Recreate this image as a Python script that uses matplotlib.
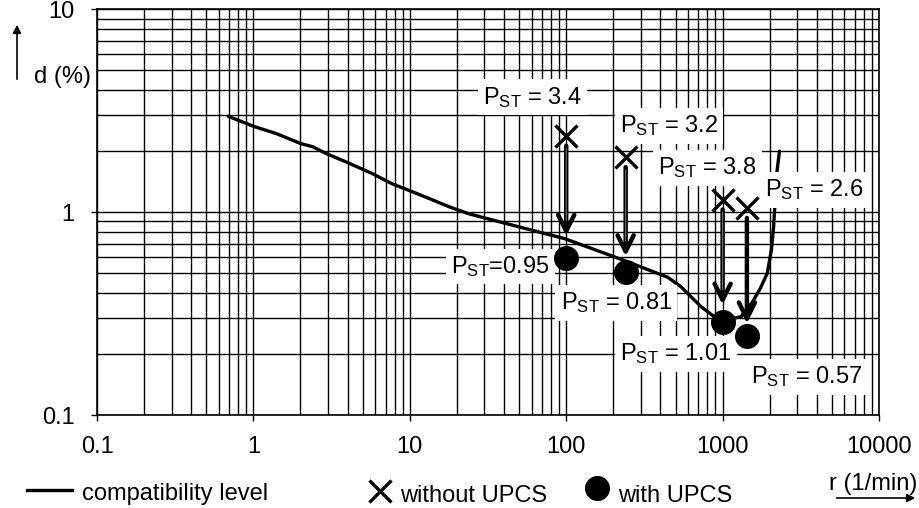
import matplotlib
matplotlib.use('Agg')
import matplotlib.pyplot as plt
from matplotlib.lines import Line2D
from matplotlib.patches import FancyArrowPatch

plt.rcParams['font.family'] = ['Liberation Sans', 'DejaVu Sans']
plt.rcParams['mathtext.fontset'] = 'custom'
plt.rcParams['mathtext.rm'] = 'Liberation Sans'
plt.rcParams['mathtext.it'] = 'Liberation Sans:italic'
plt.rcParams['mathtext.bf'] = 'Liberation Sans:bold'

FS = 17

# compatibility level curve  (r in 1/min, d in %)
curve_r = [0.69, 1.0, 1.4, 2.0, 2.4, 2.9, 3.9, 5.75, 7.7, 10.4, 13.2, 18, 24, 55, 98,
           225, 447, 543, 728, 885, 1025, 1310, 1550, 1740, 1930, 2050, 2120, 2160,
           2230, 2310]
curve_d = [2.97, 2.65, 2.44, 2.18, 2.10, 1.95, 1.77, 1.55, 1.38, 1.26, 1.17, 1.06, 0.98,
           0.83, 0.74, 0.585, 0.477, 0.428, 0.342, 0.305, 0.294, 0.305, 0.36, 0.42,
           0.50, 0.65, 0.85, 1.09, 1.6, 2.0]

# measured points
meas_r = [100, 240, 1000, 1430]
d_without = [2.37, 1.86, 1.15, 1.045]
d_with = [0.593, 0.509, 0.289, 0.245]

# P_ST labels and where they sit
pst_without = ['P$_{\\rm ST}$ = 3.4', 'P$_{\\rm ST}$ = 3.2', 'P$_{\\rm ST}$ = 3.8', 'P$_{\\rm ST}$ = 2.6']
pst_without_pos = [(61, 3.69), (455, 2.66), (796, 1.65), (3846, 1.286)]
pst_with = ['P$_{\\rm ST}$=0.95', 'P$_{\\rm ST}$ = 0.81', 'P$_{\\rm ST}$ = 1.01', 'P$_{\\rm ST}$ = 0.57']
pst_with_pos = [(37.8, 0.54), (209, 0.357), (505, 0.200), (3420, 0.154)]
arrow_gap = [16, 11, 12, 9]
hollow = [True, True, True, False]

xticks = [0.1, 1, 10, 100, 1000, 10000]
xticklabels = ['0.1', '1', '10', '100', '1000', '10000']
yticks = [0.1, 1, 10]
yticklabels = ['0.1', '1', '10']

W, H = 919, 508
fig = plt.figure(figsize=(W / 100, H / 100), dpi=100)
ax = fig.add_axes([97 / W, 1 - 415 / H, (879 - 97) / W, (415 - 9.3) / H])
ax.set_xscale('log')
ax.set_yscale('log')
ax.set_xlim(0.1, 10000)
ax.set_ylim(0.1, 10)

ax.grid(True, which='both', color='black', lw=1.0, zorder=0)
for s in ax.spines.values():
    s.set_linewidth(1.2)
ax.set_xticks(xticks)
ax.set_xticklabels(xticklabels)
ax.set_yticks(yticks)
ax.set_yticklabels(yticklabels)
ax.tick_params(which='major', length=4, width=1, labelsize=FS)
ax.tick_params(axis='x', pad=11)
ax.tick_params(axis='y', pad=12)
ax.tick_params(which='minor', length=0)

ax.plot(curve_r, curve_d, color='black', lw=2.4, zorder=2, solid_capstyle='round')

for txt, (x, y) in zip(pst_without + pst_with, pst_without_pos + pst_with_pos):
    ax.text(x, y, txt, fontsize=FS, ha='center', va='center', zorder=3,
            bbox=dict(boxstyle='square,pad=0.22', fc='white', ec='none'))

for r, d0, d1, g, hol in zip(meas_r, d_without, d_with, arrow_gap, hollow):
    ax.annotate('', xy=(r, d1), xytext=(r, d0), zorder=4,
                arrowprops=dict(arrowstyle='->', color='black', lw=3.2,
                                mutation_scale=29, shrinkA=7, shrinkB=g))
    if hol:
        # double-line shaft as in the original drawing
        ax.annotate('', xy=(r, d1), xytext=(r, d0), zorder=4,
                    arrowprops=dict(arrowstyle='-', color='#707070', lw=0.8,
                                    shrinkA=9, shrinkB=g + 11))

ax.plot(meas_r, d_without, ls='none', marker='x', ms=16, mew=2.4, color='black', zorder=5)
ax.plot(meas_r, d_with, ls='none', marker='o', ms=17, color='black', zorder=5)


def fx(px):
    return px / W


def fy(py):
    return 1 - py / H


# y axis name with arrow
fig.text(fx(62), fy(77), 'd (%)', fontsize=FS, ha='center', va='center')
fig.patches.append(FancyArrowPatch((fx(17), fy(82)), (fx(17), fy(22)), transform=fig.transFigure,
                                   arrowstyle='-|>', mutation_scale=12, lw=1.2, color='black'))

# x axis name with arrow
fig.text(fx(873), fy(484), 'r (1/min)', fontsize=FS, ha='center', va='center')
fig.patches.append(FancyArrowPatch((fx(834), fy(498)), (fx(918), fy(498)), transform=fig.transFigure,
                                   arrowstyle='-|>', mutation_scale=12, lw=1.2, color='black'))

# legend row
fig.add_artist(Line2D([fx(27), fx(72)], [fy(490), fy(490)], color='black', lw=2.4))
fig.text(fx(82), fy(494), 'compatibility level', fontsize=FS, ha='left', va='center')
fig.add_artist(Line2D([fx(380)], [fy(491)], ls='none', marker='x', ms=16, mew=2.4, color='black'))
fig.text(fx(400), fy(496), 'without UPCS', fontsize=FS, ha='left', va='center')
fig.add_artist(Line2D([fx(597)], [fy(488)], ls='none', marker='o', ms=17, color='black'))
fig.text(fx(618), fy(496), 'with UPCS', fontsize=FS, ha='left', va='center')

fig.savefig('out.png', dpi=100)
